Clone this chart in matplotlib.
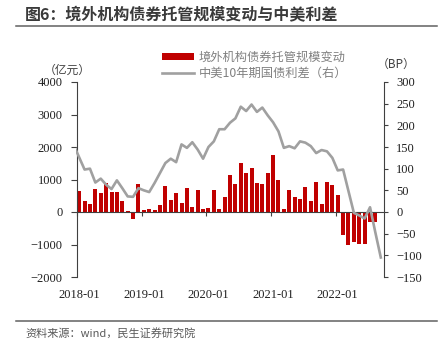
import numpy as np
import matplotlib
matplotlib.use("Agg")
import matplotlib.pyplot as plt
from matplotlib.lines import Line2D
from matplotlib.patches import Patch

# ---------------- data ----------------
# monthly change in foreign institutions' bond custody (亿元), 2018-01 .. 2022-08
bar_values = [655, 330, 237, 700, 585, 900, 615, 615, 340, 30, -215, 860,
              50, 80, 70, 215, 800, 370, 575, 285, 730, 145, 675, 90,
              115, 690, 92, 460, 1140, 850, 1510, 1200, 1365, 890, 860, 1210,
              1745, 985, 80, 675, 450, 400, 780, 340, 915, 255, 915, 820,
              535, -700, -1015, -915, -995, -990, -300, -300]
# China-US 10Y spread (BP), 2017-12 .. 2022-09
spread_values = [154,
                 126, 98, 100, 68, 77, 63, 53, 73, 55, 36, 35, 55,
                 50, 46, 67, 90, 113, 123, 115, 156, 148, 161, 144, 123,
                 150, 163, 191, 191, 206, 216, 243, 233, 248, 231, 241, 223,
                 207, 186, 148, 152, 147, 163, 160, 152, 136, 143, 140, 125,
                 96, 98, 48, -2, -8, -15, 11, -48, -105]
tick_labels = ["2018-01", "2019-01", "2020-01", "2021-01", "2022-01"]
tick_index = [0, 12, 24, 36, 48]

series_names = ["境外机构债券托管规模变动", "中美10年期国债利差（右）"]
title = "图6：境外机构债券托管规模变动与中美利差"
source = "资料来源：wind，民生证券研究院"

CJK = ["Noto Sans CJK SC", "DejaVu Sans"]
SERIF = "Liberation Serif"

W, H = 444, 344
fig = plt.figure(figsize=(W / 100, H / 100), dpi=100)
ax = fig.add_axes([76.5 / W, 1 - 277 / H, 307 / W, 195 / H])

n_cat = len(spread_values) - 1
bar_w = 0.74
xb = np.arange(len(bar_values))
ax.bar(xb, bar_values, width=bar_w, color="#C00000", zorder=2, label=series_names[0])
ax.set_xlim(-0.5, n_cat - 0.5)
ax.set_ylim(-2000, 4000)
ax.set_yticks(np.arange(-2000, 4001, 1000))

spine_c = "#404040"
for s in ["top", "right"]:
    ax.spines[s].set_visible(False)
ax.spines["left"].set_color(spine_c)
ax.spines["bottom"].set_color(spine_c)
ax.spines["bottom"].set_position(("data", 0))
ax.spines["bottom"].set_zorder(3)
ax.set_xticks([i - bar_w / 2 for i in tick_index])
ax.set_xticklabels([])
ax.tick_params(axis="x", direction="out", length=3, color=spine_c)
ax.tick_params(axis="y", direction="out", length=4, color=spine_c, pad=6,
               labelsize=9, labelcolor="#202020")
for lab in ax.get_yticklabels():
    lab.set_fontfamily(SERIF)

sec = ax.secondary_xaxis("bottom")
sec.set_xticks(tick_index, tick_labels)
sec.tick_params(length=0, pad=9, labelsize=9, labelcolor="#202020")
sec.spines["bottom"].set_visible(False)
for lab in sec.get_xticklabels():
    lab.set_fontfamily(SERIF)

ax2 = ax.twinx()
xl = np.arange(-1, len(spread_values) - 1)
ax2.plot(xl, spread_values, color="#A0A0A0", lw=1.9, zorder=4, label=series_names[1])
ax2.set_ylim(-150, 300)
ax2.set_yticks(np.arange(-150, 301, 50))
ax2.set_xlim(-0.5, n_cat - 0.5)
for s in ["top", "left", "bottom"]:
    ax2.spines[s].set_visible(False)
ax2.spines["right"].set_color(spine_c)
ax2.tick_params(axis="y", direction="out", length=3, color=spine_c, pad=6,
                labelsize=9, labelcolor="#202020")
for lab in ax2.get_yticklabels():
    lab.set_fontfamily(SERIF)

# legend
handles = [Patch(facecolor="#C00000", edgecolor="none"),
           Line2D([], [], color="#A0A0A0", lw=1.9)]
leg = fig.legend(handles, series_names, loc="upper left",
                 bbox_to_anchor=(162 / W, 1 - 51 / H), frameon=False,
                 prop={"family": CJK, "size": 8.8}, handlelength=2.6,
                 handleheight=0.5, handletextpad=0.4, labelspacing=0.25,
                 borderpad=0, borderaxespad=0)
for t in leg.get_texts():
    t.set_color("#808080")

# unit labels
fig.text(67 / W, 1 - 70 / H, "（亿元）", ha="center", va="center",
         family=CJK, fontsize=8.5, color="#404040")
fig.text(396 / W, 1 - 64 / H, "（BP）", ha="center", va="center",
         family=CJK, fontsize=8.5, color="#404040")

# title and decorations
fig.text(25 / W, 1 - 15 / H, title, ha="left", va="center", family=CJK,
         fontsize=11.5, fontweight="bold", color="#3a3a3a")
fig.add_artist(Line2D([16 / W, 437 / W], [1 - 25.7 / H] * 2, color="#606060", lw=1.1))
fig.add_artist(Line2D([16 / W, 437 / W], [1 - 320.7 / H] * 2, color="#606060", lw=1.1))
fig.text(25 / W, 1 - 333 / H, source, ha="left", va="center", family=CJK,
         fontsize=8, color="#595959")

fig.savefig("out.png", dpi=100)
